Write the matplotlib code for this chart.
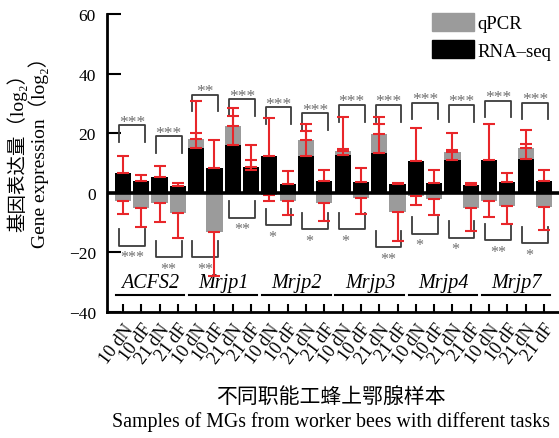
import numpy as np
import matplotlib.pyplot as plt
from matplotlib.patches import Patch

plt.rcParams['font.family'] = ['Liberation Serif', 'Noto Sans CJK SC', 'DejaVu Serif']
plt.rcParams['axes.unicode_minus'] = True

genes = ['ACFS2', 'Mrjp1', 'Mrjp2', 'Mrjp3', 'Mrjp4', 'Mrjp7']
samples = ['10 dN', '10 dF', '21 dN', '21 dF']

rna_seq = [6.7, 3.9, 5.2, 2.2,
           15.2, 8.3, 15.9, 8.6,
           12.2, 3.0, 12.2, 3.9,
           12.6, 3.6, 13.3, 2.8,
           10.6, 3.3, 10.9, 2.6,
           11.1, 3.7, 11.3, 4.1]
rna_err = [5.7, 2.2, 3.9, 1.1,
           15.7, 9.5, 12.4, 7.5,
           13.0, 4.2, 10.9, 3.9,
           13.0, 4.7, 12.3, 0.5,
           11.3, 4.5, 9.3, 0.7,
           11.9, 3.0, 9.8, 3.5]
qpcr = [-2.6, -5.0, -3.3, -6.7,
        18.0, -13.0, 22.4, 7.5,
        -0.6, -2.8, 17.8, -3.3,
        14.1, -1.7, 19.8, -6.3,
        -1.1, -2.2, 13.7, -5.2,
        -2.6, -4.4, 14.9, -4.8]
qpcr_err = [4.4, 6.4, 6.5, 8.3,
            2.0, 15.0, 3.4, 3.6,
            2.2, 4.6, 2.8, 6.1,
            0.6, 5.3, 3.2, 9.8,
            3.0, 5.2, 0.5, 7.6,
            5.5, 6.2, 1.4, 7.8]

# significance, two pairs per gene (10 dN vs 10 dF, 21 dN vs 21 dF)
sig_top = ['***', '***', '**', '***', '***', '***',
           '***', '***', '***', '***', '***', '***']
sig_top_y = [22.6, 18.9, 32.8, 31.4, 28.7, 26.7,
             29.4, 29.4, 30.2, 29.4, 30.9, 30.2]
sig_bot = ['***', '**', '**', '**', '*', '*',
           '*', '**', '*', '*', '**', '*']
sig_bot_y = [-17.8, -21.7, -21.7, -8.3, -10.8, -12.2,
             -12.2, -18.3, -13.7, -15.0, -15.9, -17.0]

n = len(rna_seq)
x = np.arange(n)
red = '#e8262a'
gray = '#9b9b9b'
bcol = '#3c3c3c'
scol = '#6e6e6e'

fig = plt.figure(figsize=(5.59, 4.39), dpi=100)
ax = fig.add_axes([107 / 559, 1 - 313 / 439, 452 / 559, 298 / 439])

w = 0.88
ax.bar(x, qpcr, width=w, color=gray, zorder=2)
ax.bar(x, rna_seq, width=w, color='black', zorder=3)

q = np.array(qpcr)
qe = np.array(qpcr_err)
ax.errorbar(x, q, yerr=[np.where(q < 0, qe, 0), np.where(q >= 0, qe, 0)],
            fmt='none', ecolor=red, elinewidth=1.5, capsize=4, capthick=1.5, zorder=4)
r = np.array(rna_seq)
re_ = np.array(rna_err)
ax.errorbar(x, r, yerr=[np.zeros(n), re_],
            fmt='none', ecolor=red, elinewidth=1.5, capsize=4, capthick=1.5, zorder=4)

ax.axhline(0, color='black', lw=2.6, zorder=5)

leg = 5.5
for k in range(len(sig_top)):
    i = 2 * k
    x0, x1 = x[i] - 0.2, x[i + 1] + 0.2
    yt = sig_top_y[k]
    ax.plot([x0, x0, x1, x1], [yt - leg, yt, yt, yt - leg], color=bcol, lw=1.3)
    ax.text((x0 + x1) / 2, yt - 0.1, sig_top[k], ha='center', va='baseline',
            color=scol, fontsize=12.5)
    yb = sig_bot_y[k]
    ax.plot([x0, x0, x1, x1], [yb + leg, yb, yb, yb + leg], color=bcol, lw=1.3)
    if len(sig_bot[k]) == 1:
        sx, ha = x0 + 0.15, 'left'
    else:
        sx, ha = (x0 + x1) / 2, 'center'
    ax.text(sx, yb - 1.2, sig_bot[k], ha=ha, va='top', color=scol, fontsize=11.5)

for g, name in enumerate(genes):
    xs = x[4 * g:4 * g + 4]
    ax.text(xs.mean(), -30.1, name, ha='center', va='center',
            fontsize=14.5, style='italic')
    ax.plot([xs[0] - 0.4, xs[-1] + 0.35], [-34.3, -34.3], color='black', lw=1.5)

ax.set_xlim(-0.87, n - 0.18)
ax.set_ylim(-40, 60)
ax.set_yticks(np.arange(-40, 61, 20))
ax.set_xticks(x)
ax.set_xticklabels(samples * len(genes), rotation=53, ha='right',
                   rotation_mode='anchor')
ax.tick_params(axis='y', direction='in', length=10, width=1.5, labelsize=12.5, pad=8)
ax.tick_params(axis='x', direction='in', length=6, width=1.5, labelsize=13, pad=6)
for s in ['top', 'right']:
    ax.spines[s].set_visible(False)
ax.spines['left'].set_linewidth(2)
ax.spines['bottom'].set_linewidth(2)

handles = [Patch(color=gray, label='qPCR'), Patch(color='black', label='RNA\u2013seq')]
ax.legend(handles=handles, loc='upper right', bbox_to_anchor=(1.0, 1.03),
          frameon=False, fontsize=13.5, handlelength=2.25, handleheight=1.1,
          handletextpad=0.2, labelspacing=0.45, borderaxespad=0)

fig.text(17 / 559, 1 - 148 / 439, '基因表达量（log₂）', rotation=90,
         ha='center', va='center', fontsize=14)
fig.text(39 / 559, 1 - 148 / 439, 'Gene expression（log₂）', rotation=90,
         ha='center', va='center', fontsize=14)
fig.text(331 / 559, 1 - 398 / 439, '不同职能工蜂上鄂腺样本', ha='center',
         va='center', fontsize=15)
fig.text(331 / 559, 1 - 422 / 439, 'Samples of MGs from worker bees with different tasks',
         ha='center', va='center', fontsize=14.3)

fig.savefig('out.png', dpi=100)
